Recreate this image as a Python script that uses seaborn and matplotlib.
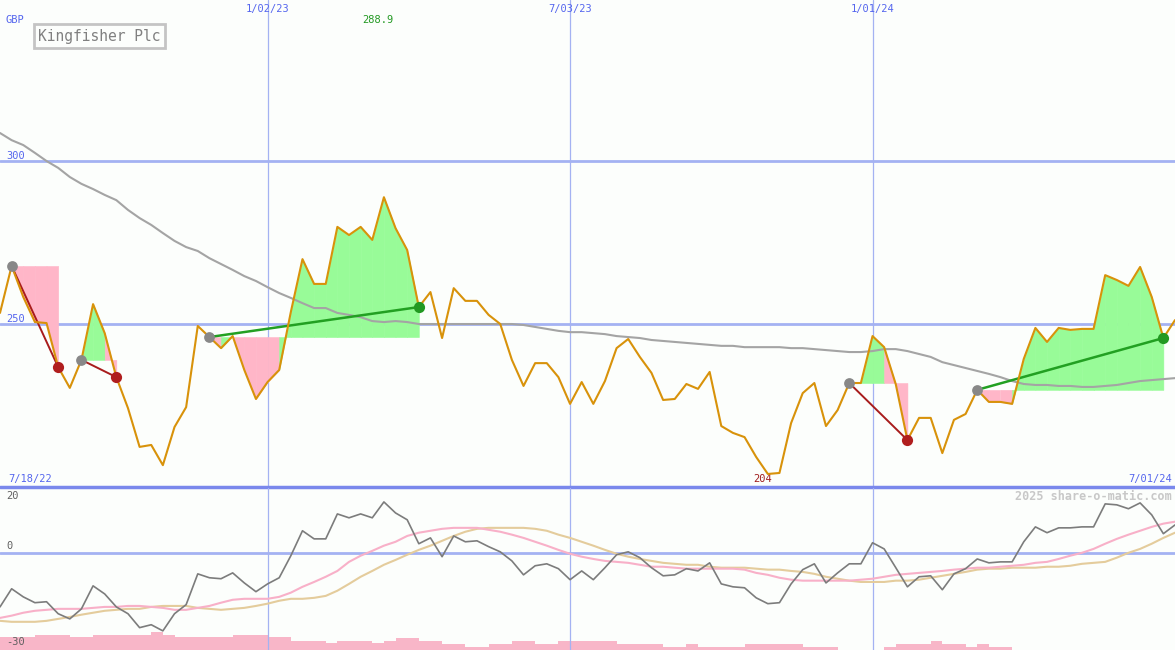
import pandas as pd
import seaborn as sns
import matplotlib.pyplot as plt
import matplotlib.dates as mdates
import matplotlib.transforms as mtransforms

sns.set_style("white")
plt.rcParams['font.family'] = ['DejaVu Sans Mono', 'DejaVu Sans']

# weekly closes, Kingfisher Plc (GBp)
dates = pd.date_range('2022-07-25', periods=102, freq='7D')
price = [253.4, 267.8, 258.3, 250.6, 250.3, 236.8, 230.4, 239.0, 256.1, 247.2,
         233.7, 224.2, 212.3, 212.9, 206.7, 218.4, 224.5, 249.4, 246.0, 242.6,
         246.3, 235.9, 227.0, 232.2, 235.9, 253.7, 269.9, 262.3, 262.3, 279.8,
         277.3, 279.8, 275.8, 288.9, 279.4, 272.7, 255.2, 259.8, 245.7, 261.0,
         257.1, 257.1, 252.8, 250.0, 239.0, 231.0, 238.0, 238.0, 233.7, 225.5,
         232.2, 225.5, 232.5, 242.6, 245.4, 239.9, 235.0, 226.7, 227.0, 231.6,
         230.1, 235.3, 218.7, 216.6, 215.3, 209.2, 204.0, 204.3, 219.6, 228.8,
         231.9, 218.7, 223.6, 231.9, 231.9, 246.3, 242.9, 231.5, 214.4, 221.2,
         221.2, 210.4, 220.6, 222.4, 229.8, 226.1, 226.1, 225.5, 239.3, 248.8,
         244.5, 248.8, 248.2, 248.5, 248.5, 265.0, 263.5, 261.7, 267.5, 258.3,
         245.7, 251.2]
moving_avg = [308.6, 306.4, 304.9, 302.5, 300.0, 297.9, 295.1, 293.0, 291.4, 289.6,
              288.0, 285.0, 282.5, 280.4, 277.9, 275.5, 273.6, 272.4, 270.2, 268.4,
              266.6, 264.7, 263.2, 261.3, 259.5, 258.0, 256.4, 254.9, 254.9, 253.4,
              252.8, 252.1, 250.9, 250.6, 250.9, 250.6, 250.0, 250.0, 250.0, 250.0,
              250.0, 250.0, 250.0, 250.0, 250.0, 249.7, 249.1, 248.5, 247.9, 247.5,
              247.5, 247.2, 246.9, 246.3, 246.0, 245.7, 245.1, 244.8, 244.5, 244.2,
              243.9, 243.6, 243.3, 243.3, 242.9, 242.9, 242.9, 242.9, 242.6, 242.6,
              242.3, 242.0, 241.7, 241.4, 241.4, 241.7, 242.3, 242.3, 241.7, 240.8,
              239.9, 238.3, 237.4, 236.5, 235.6, 234.7, 233.7, 232.5, 231.6, 231.3,
              231.3, 231.0, 231.0, 230.7, 230.7, 231.0, 231.3, 231.9, 232.5, 232.8,
              233.1, 233.4]

# lower panel: % distance from average and two smoothed versions
osc = [-16.7, -11.1, -13.6, -15.4, -15.1, -18.8, -20.4, -17.3, -10.2, -12.7,
       -16.7, -18.8, -23.1, -22.2, -24.1, -18.8, -16.0, -6.5, -7.7, -8.0,
       -6.2, -9.3, -12.0, -9.6, -7.7, -0.9, 6.8, 4.3, 4.3, 12.0,
       10.8, 12.0, 10.8, 15.7, 12.3, 10.2, 2.8, 4.6, -1.2, 5.2,
       3.4, 3.7, 1.9, 0.3, -2.5, -6.8, -4.0, -3.4, -4.9, -8.3,
       -5.6, -8.3, -4.6, -0.6, 0.3, -1.5, -4.6, -7.1, -6.8, -4.9,
       -5.6, -3.1, -9.6, -10.5, -10.8, -13.9, -15.7, -15.4, -9.6, -5.2,
       -3.4, -9.3, -6.2, -3.4, -3.4, 3.1, 1.2, -4.6, -10.5, -7.4,
       -7.1, -11.4, -6.5, -4.9, -1.9, -3.1, -2.8, -2.8, 3.4, 8.0,
       6.2, 7.7, 7.7, 8.0, 8.0, 15.1, 14.8, 13.6, 15.4, 11.7,
       5.9, 8.6]
osc_fast = [-20.1, -19.4, -18.5, -17.9, -17.6, -17.3, -17.3, -17.3, -17.0, -16.7,
            -16.7, -16.4, -16.4, -16.7, -17.0, -17.6, -17.6, -17.0, -16.4, -15.4,
            -14.5, -14.2, -14.2, -14.2, -13.6, -12.3, -10.5, -9.0, -7.4, -5.6,
            -2.8, -0.9, 0.6, 2.2, 3.4, 5.2, 6.2, 6.8, 7.4, 7.7,
            7.7, 7.7, 7.1, 6.5, 5.6, 4.6, 3.4, 2.2, 0.9, -0.3,
            -1.2, -1.9, -2.5, -2.8, -3.1, -3.7, -4.3, -4.3, -4.6, -4.9,
            -4.9, -4.9, -4.9, -4.9, -5.2, -6.2, -6.8, -7.7, -8.3, -8.6,
            -8.6, -8.6, -8.6, -8.6, -8.3, -8.0, -7.4, -6.8, -6.5, -6.2,
            -5.9, -5.6, -5.2, -4.9, -4.6, -4.6, -4.3, -4.0, -3.7, -3.1,
            -2.8, -1.9, -0.9, 0.0, 1.2, 2.8, 4.3, 5.6, 6.8, 8.0,
            9.0, 9.6]
osc_slow = [-21.0, -21.3, -21.3, -21.3, -21.0, -20.4, -19.8, -19.1, -18.5, -17.9,
            -17.6, -17.3, -17.3, -16.7, -16.4, -16.4, -16.4, -17.0, -17.3, -17.6,
            -17.3, -17.0, -16.4, -15.7, -14.8, -14.2, -14.2, -13.9, -13.3, -11.7,
            -9.6, -7.4, -5.6, -3.7, -2.2, -0.6, 0.9, 2.2, 3.7, 5.2,
            6.5, 7.4, 7.7, 7.7, 7.7, 7.7, 7.4, 6.8, 5.6, 4.6,
            3.4, 2.2, 0.9, -0.3, -1.2, -1.9, -2.5, -3.1, -3.4, -3.7,
            -3.7, -4.3, -4.6, -4.6, -4.6, -4.9, -5.2, -5.2, -5.6, -5.9,
            -6.5, -7.4, -8.0, -8.6, -9.0, -9.0, -9.0, -8.6, -8.6, -8.3,
            -7.7, -7.1, -6.5, -5.9, -5.2, -4.9, -4.9, -4.6, -4.6, -4.6,
            -4.3, -4.3, -4.0, -3.4, -3.1, -2.8, -1.5, 0.0, 1.2, 2.8,
            4.6, 6.2]
volume = [13, 13, 13, 15, 15, 15, 13, 13, 15, 15,
          15, 15, 15, 18, 15, 13, 13, 13, 13, 13,
          15, 15, 15, 13, 13, 9, 9, 9, 7, 9,
          9, 9, 7, 9, 12, 12, 9, 9, 6, 6,
          3, 3, 6, 6, 9, 9, 6, 6, 9, 9,
          9, 9, 9, 6, 6, 6, 6, 3, 3, 6,
          3, 3, 3, 3, 6, 6, 6, 6, 6, 3,
          3, 3, 0, 0, 0, 0, 3, 6, 6, 6,
          9, 6, 6, 3, 6, 3, 3, 0, 0, 0,
          0, 0, 0, 0, 0, 0, 0, 0, 0, 0,
          0, 0]

# trade signals: start week, end week, direction
sig_start = [1, 7, 18, 73, 84]
sig_end = [5, 10, 36, 78, 100]
sig_kind = ['sell', 'sell', 'buy', 'sell', 'buy']

grid_dates = [dates[23], dates[49], dates[75]]
grid_labels = ['1/02/23', '7/03/23', '1/01/24']

BG = '#fcfefc'
BLUE = '#a4b2f2'
LABEL = '#5566ee'
W, H = 1175, 650

fig = plt.figure(figsize=(11.75, 6.5), dpi=100, facecolor=BG)
ax = fig.add_axes([0, (H - 487) / H, 1, 487 / H])
axv = fig.add_axes([0, 0, 1, 162 / H])
ax2 = fig.add_axes([0, 0, 1, 162 / H])
for a in (ax, axv, ax2):
    a.set_axis_off()
    a.set_xlim(dates[0], dates[-1])
ax2.patch.set_visible(False)

# ---- main price panel
ax.set_ylim(200, 349.4)
for lvl in (300, 250):
    ax.axhline(lvl, color=BLUE, lw=2, zorder=0)
for d in grid_dates:
    ax.axvline(d, color=BLUE, lw=0.9, zorder=0)
ax.axhline(200, color='#7a88ec', lw=2.5, zorder=0, clip_on=False)

for s, e, k in zip(sig_start, sig_end, sig_kind):
    base = price[s]
    for i in range(s, e):
        c = '#98fb98' if price[i + 1] >= base else '#ffb6c8'
        ax.fill_between(dates[i:i + 2], price[i:i + 2], base, color=c,
                        lw=0.4, edgecolor=c, zorder=1)

sns.lineplot(x=dates, y=moving_avg, color='#a4a4a4', lw=1.5, ax=ax, zorder=2)

for s, e, k in zip(sig_start, sig_end, sig_kind):
    c = '#22a022' if k == 'buy' else '#a81c1c'
    sns.lineplot(x=[dates[s], dates[e]], y=[price[s], price[e]], color=c,
                 lw=1.8 if k == 'buy' else 1.4, ax=ax, zorder=3)

sns.lineplot(x=dates, y=price, color='#d8920a', lw=1.5, ax=ax, zorder=4)

sns.scatterplot(x=[dates[s] for s in sig_start], y=[price[s] for s in sig_start],
                color='#888888', s=60, linewidth=0, ax=ax, zorder=5)
for e, k in zip(sig_end, sig_kind):
    c = '#229922' if k == 'buy' else '#b01e1e'
    sns.scatterplot(x=[dates[e]], y=[price[e]], color=c, s=65, linewidth=0,
                    ax=ax, zorder=5)

trans = mtransforms.blended_transform_factory(ax.transData, ax.transAxes)
imax = price.index(max(price))
imin = price.index(min(price))
ax.annotate(f'{max(price):.1f}', xy=(mdates.date2num(dates[imax]), 1 - 20 / 487),
            xycoords=trans, xytext=(-6, 0), textcoords='offset pixels',
            ha='center', va='center', color='#229922', fontsize=7.5)
ax.annotate(f'{min(price):.0f}', xy=(mdates.date2num(dates[imin]), 8 / 487),
            xycoords=trans, xytext=(-5, 0), textcoords='offset pixels',
            ha='center', va='center', color='#a01c1c', fontsize=7.5)
for d, lab in zip(grid_dates, grid_labels):
    ax.text(mdates.date2num(d), 1 - 9 / 487, lab, transform=trans,
            ha='center', va='center', color=LABEL, fontsize=7.5)

fig.text(6 / W, 1 - 20 / H, 'GBP', color=LABEL, fontsize=7.5, va='center')
fig.text(6 / W, 1 - 156 / H, '300', color=LABEL, fontsize=7.5, va='center')
fig.text(6 / W, 1 - 319 / H, '250', color=LABEL, fontsize=7.5, va='center')
fig.text(8 / W, 1 - 479 / H, '7/18/22', color=LABEL, fontsize=7.5, va='center')
fig.text(1172 / W, 1 - 479 / H, '7/01/24', color=LABEL, fontsize=7.5,
         va='center', ha='right')
fig.text(38 / W, 1 - 36 / H, 'Kingfisher Plc', color='#808080', fontsize=10.5,
         va='center', ha='left',
         bbox=dict(boxstyle='square,pad=0.3', fc=BG, ec='#c4c4c4', lw=2))

# ---- lower panel
axv.set_ylim(0, 162)
axv.bar(dates, volume, width=7, align='edge', color='#f8b6c8', lw=0)

ax2.set_ylim(-30, 20)
ax2.axhline(0, color=BLUE, lw=2, zorder=0)
for d in grid_dates:
    ax2.axvline(d, color=BLUE, lw=0.9, zorder=0)
sns.lineplot(x=dates, y=osc_slow, color='#e4cc9c', lw=1.5, ax=ax2, zorder=2)
sns.lineplot(x=dates, y=osc_fast, color='#f8b0c8', lw=1.5, ax=ax2, zorder=2)
sns.lineplot(x=dates, y=osc, color='#7c7c7c', lw=1.2, ax=ax2, zorder=3)

fig.text(6 / W, 1 - 496 / H, '20', color='#606060', fontsize=7.5, va='center')
fig.text(6 / W, 1 - 546 / H, '0', color='#606060', fontsize=7.5, va='center')
fig.text(6 / W, 1 - 642 / H, '-30', color='#606060', fontsize=7.5, va='center')
fig.text(1172 / W, 1 - 496 / H, '2025 share-o-matic.com', color='#c8c8c8',
         fontsize=8.5, fontweight='bold', va='center', ha='right')

fig.savefig('out.png', dpi=100, facecolor=BG)
